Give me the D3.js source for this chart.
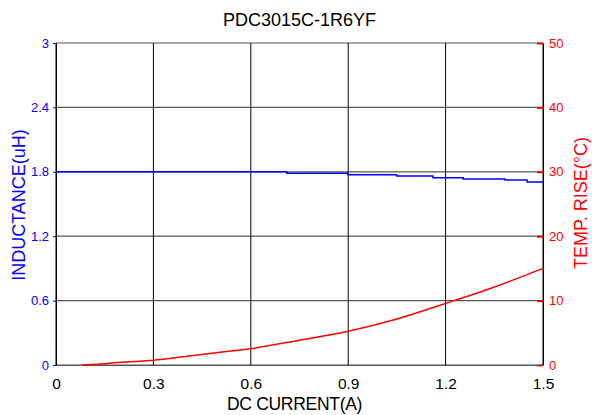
<!DOCTYPE html>
<html><head><meta charset="utf-8">
<script src="https://cdn.jsdelivr.net/npm/d3@7"></script>
<style>body{margin:0;background:#fff}svg{display:block}text{font-family:"Liberation Sans",Arial,sans-serif}</style>
</head><body>
<svg id="c" width="592" height="415"></svg>
<script>
const title = "PDC3015C-1R6YF";
const xTicks = [0, 0.3, 0.6, 0.9, 1.2, 1.5];
const lTicks = [0, 0.6, 1.2, 1.8, 2.4, 3];
const rTicks = [0, 10, 20, 30, 40, 50];
const indCurrent = [0, 0.711, 0.899, 1.049, 1.161, 1.254, 1.383, 1.451, 1.5];
const inductance = [1.80, 1.786, 1.773, 1.761, 1.745, 1.733, 1.724, 1.705, 1.705];
const tempCurrent = [0.08, 0.12, 0.2, 0.3, 0.41, 0.53, 0.6, 0.75, 0.9, 1.05, 1.2, 1.35, 1.5];
const tempRise = [0, 0.1, 0.42, 0.73, 1.4, 2.12, 2.54, 3.85, 5.25, 7.15, 9.55, 12.1, 15.0];

const svg = d3.select("#c");
const L = 56, R = 543, T = 43, B = 365;
const x = d3.scaleLinear().domain([0, 1.5]).range([L, R]);
const yL = d3.scaleLinear().domain([0, 3]).range([B, T]);
const yR = d3.scaleLinear().domain([0, 50]).range([B, T]);

// grid
svg.append("g").selectAll("line").data(lTicks).join("line")
  .attr("x1", L).attr("x2", R).attr("y1", d => yL(d)).attr("y2", d => yL(d))
  .attr("stroke", "#555").attr("stroke-width", 1.2);
svg.append("g").selectAll("line").data(xTicks).join("line")
  .attr("x1", d => x(d)).attr("x2", d => x(d)).attr("y1", T).attr("y2", B)
  .attr("stroke", "#000").attr("stroke-width", 1);

// left axis
const gl = svg.append("g").attr("transform", `translate(${L},0)`)
  .call(d3.axisLeft(yL).tickValues(lTicks).tickSize(3).tickPadding(4).tickFormat(d => String(d)));
gl.select(".domain").attr("stroke", "#000");
gl.selectAll(".tick line").attr("stroke", "#00f");
gl.selectAll("text").attr("fill", "#00f").style("font-size", "13px").style("font-family", '"Liberation Sans",Arial,sans-serif');

// right axis (ticks inward)
const gr = svg.append("g").attr("transform", `translate(${R},0)`)
  .call(d3.axisRight(yR).tickValues(rTicks).tickSize(0).tickPadding(6).tickFormat(d => String(d)));
gr.select(".domain").attr("stroke", "#000");
gr.selectAll(".tick").append("line").attr("x1", -6).attr("x2", 0).attr("stroke", "#f00").attr("stroke-width", 2);
gr.selectAll("text").attr("fill", "#f00").style("font-size", "13px").style("font-family", '"Liberation Sans",Arial,sans-serif');

// bottom axis
const gb = svg.append("g").attr("transform", `translate(0,${B})`)
  .call(d3.axisBottom(x).tickValues(xTicks).tickSize(0).tickPadding(13).tickFormat(d => String(d)));
gb.select(".domain").attr("stroke", "#555");
gb.selectAll("text").attr("fill", "#000").style("font-size", "15.5px").style("font-family", '"Liberation Sans",Arial,sans-serif');

// lines
const indData = indCurrent.map((c, i) => [c, inductance[i]]);
svg.append("path").datum(indData)
  .attr("fill", "none").attr("stroke", "#00f").attr("stroke-width", 1.5)
  .attr("d", d3.line().x(d => x(d[0])).y(d => yL(d[1])).curve(d3.curveStepAfter));
const tData = tempCurrent.map((c, i) => [c, tempRise[i]]);
svg.append("path").datum(tData)
  .attr("fill", "none").attr("stroke", "#f00").attr("stroke-width", 1.5)
  .attr("d", d3.line().x(d => x(d[0])).y(d => yR(d[1])).curve(d3.curveMonotoneX));

// titles
svg.append("text").attr("x", 299.5).attr("y", 26).attr("text-anchor", "middle")
  .style("font-size", "18px").attr("fill", "#000").text(title);
svg.append("text").attr("x", 294.5).attr("y", 410).attr("text-anchor", "middle")
  .style("font-size", "17.5px").attr("letter-spacing", "-0.3").attr("fill", "#000").text("DC CURRENT(A)");
svg.append("text").attr("transform", "translate(25,205) rotate(-90)").attr("text-anchor", "middle")
  .style("font-size", "18px").attr("fill", "#00f").text("INDUCTANCE(uH)");
svg.append("text").attr("transform", "translate(587,203) rotate(-90)").attr("text-anchor", "middle")
  .style("font-size", "18px").attr("fill", "#f00").text("TEMP. RISE(°C)");
</script>
</body></html>
